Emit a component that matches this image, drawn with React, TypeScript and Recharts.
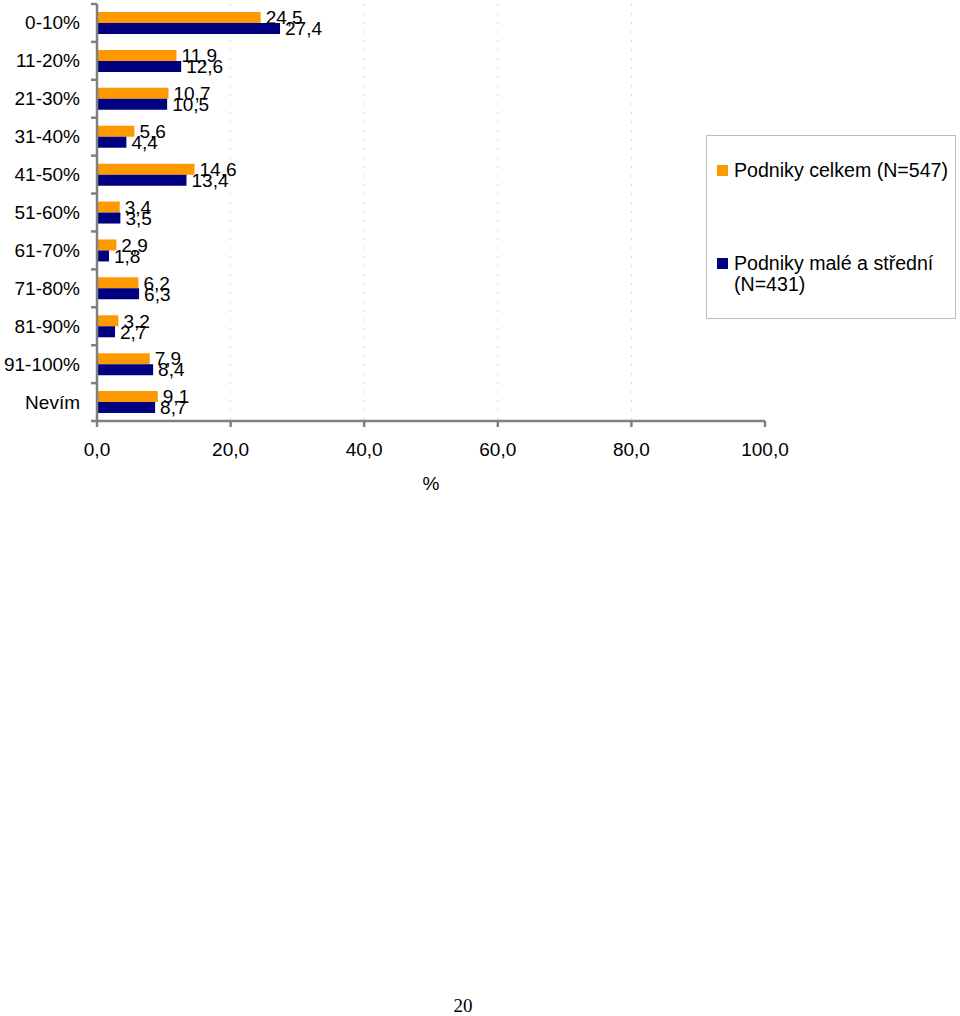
import React from 'react';
import { BarChart, Bar, XAxis, YAxis, CartesianGrid, Legend, LabelList, Label } from 'recharts';

const categories = ['0-10%', '11-20%', '21-30%', '31-40%', '41-50%', '51-60%', '61-70%', '71-80%', '81-90%', '91-100%', 'Nevím'];
const celkem = [24.5, 11.9, 10.7, 5.6, 14.6, 3.4, 2.9, 6.2, 3.2, 7.9, 9.1];
const maleStredni = [27.4, 12.6, 10.5, 4.4, 13.4, 3.5, 1.8, 6.3, 2.7, 8.4, 8.7];
const xTicks = [0, 20, 40, 60, 80, 100];

const SERIES = [
  { key: 'celkem', name: 'Podniky celkem (N=547)', color: '#FF9900' },
  { key: 'male', name: 'Podniky malé a střední (N=431)', color: '#000080' },
];

const data = categories.map((c, i) => ({ cat: c, celkem: celkem[i], male: maleStredni[i] }));

const FONT = '"Liberation Sans", Arial, sans-serif';
const W = 960;
const H = 500;
const MARGIN = { top: 4, right: 195, bottom: 9, left: 0 };
const X_AXIS_H = 70;
const PLOT_H = H - MARGIN.top - MARGIN.bottom - X_AXIS_H;
const BAND = PLOT_H / categories.length;
const TICK_SIZE = 6;
const TICK_MARGIN = 11;

const fmt = (v: any) => Number(v).toFixed(1).replace('.', ',');

const CatTick = (props: any) => {
  const { x, y, payload, index } = props;
  const ax = x + TICK_SIZE + TICK_MARGIN;
  return (
    <g>
      <text x={x} y={y} textAnchor="end" dominantBaseline="central" fontSize={19} fontFamily={FONT} fill="#000">
        {payload.value}
      </text>
      <line x1={ax - TICK_SIZE} x2={ax} y1={y + BAND / 2} y2={y + BAND / 2} stroke="#808080" strokeWidth={2.5} />
      {index === 0 && (
        <line x1={ax - TICK_SIZE} x2={ax} y1={y - BAND / 2} y2={y - BAND / 2} stroke="#808080" strokeWidth={2.5} />
      )}
    </g>
  );
};

const LegendBox = () => (
  <div
    style={{
      width: 250,
      height: 184,
      boxSizing: 'border-box',
      border: '1px solid #bdbdbd',
      background: '#fff',
      fontFamily: FONT,
      fontSize: 19.6,
      color: '#000',
      position: 'relative',
    }}
  >
    <div style={{ position: 'absolute', left: 10, top: 29, width: 11, height: 11, background: SERIES[0].color }} />
    <div style={{ position: 'absolute', left: 27, top: 24, lineHeight: '21px', whiteSpace: 'nowrap' }}>Podniky celkem (N=547)</div>
    <div style={{ position: 'absolute', left: 10, top: 122, width: 11, height: 11, background: SERIES[1].color }} />
    <div style={{ position: 'absolute', left: 27, top: 117, lineHeight: '21px', whiteSpace: 'nowrap' }}>
      Podniky malé a střední
      <br />
      (N=431)
    </div>
  </div>
);

export default function App() {
  return (
    <div style={{ position: 'absolute', left: 0, top: 0, width: 960, height: 1016, background: '#fff' }}>
      <BarChart width={W} height={H} data={data} layout="vertical" margin={MARGIN} barGap={0} barCategoryGap={8}>
        <CartesianGrid
          horizontal={false}
          stroke="#d9d9d9"
          strokeDasharray="2 7"
          verticalCoordinatesGenerator={({ offset }: any) =>
            [20, 40, 60, 80].map((v) => offset.left + (offset.width * v) / 100)
          }
        />
        <XAxis
          type="number"
          domain={[0, 100]}
          ticks={xTicks}
          tickFormatter={fmt}
          height={X_AXIS_H}
          tickSize={TICK_SIZE}
          tickMargin={16}
          axisLine={{ stroke: '#808080', strokeWidth: 2.5 }}
          tickLine={{ stroke: '#808080', strokeWidth: 2.5 }}
          tick={{ fontSize: 19, fontFamily: FONT, fill: '#000' }}
          interval={0}
        >
          <Label value="%" position="insideBottom" offset={1} style={{ fontSize: 19, fontFamily: FONT, fill: '#000' }} />
        </XAxis>
        <YAxis
          type="category"
          dataKey="cat"
          width={97}
          tickSize={TICK_SIZE}
          tickMargin={TICK_MARGIN}
          tickLine={false}
          axisLine={{ stroke: '#808080', strokeWidth: 2.5 }}
          tick={<CatTick />}
          interval={0}
        />
        <Legend
          layout="vertical"
          align="center"
          verticalAlign="middle"
          content={() => <LegendBox />}
          wrapperStyle={{ position: 'absolute', left: 706, top: 135, width: 250, height: 184 }}
        />
        {SERIES.map((s) => (
          <Bar key={s.key} dataKey={s.key} name={s.name} fill={s.color} barSize={11} isAnimationActive={false}>
            <LabelList dataKey={s.key} position="right" offset={5} formatter={fmt} style={{ fontSize: 19, fontFamily: FONT, fill: '#000' }} />
          </Bar>
        ))}
      </BarChart>
      <div
        style={{
          position: 'absolute',
          left: 433,
          top: 996,
          width: 60,
          textAlign: 'center',
          fontFamily: '"Liberation Serif", "Times New Roman", serif',
          fontSize: 19,
          lineHeight: '20px',
        }}
      >
        20
      </div>
    </div>
  );
}
